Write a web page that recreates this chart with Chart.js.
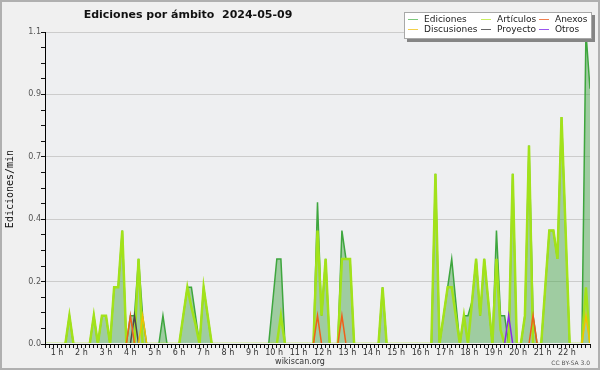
<!DOCTYPE html>
<html>
<head>
<meta charset="utf-8">
<script src="https://cdn.jsdelivr.net/npm/chart.js@4.4.1/dist/chart.umd.min.js"></script>
<style>
  html,body{margin:0;padding:0;background:#f0f0f0;}
  canvas{display:block;}
</style>
</head>
<body>
<canvas id="editsChart" width="600" height="370"></canvas>
<script>
// 10-minute bins from 00:00, edits per minute
const ediciones = [
  0,0,0,0,0,0,0.1,0,0,0,0,0,
  0.1,0,0.1,0.1,0,0.2,0.2,0.4,0,0.1,0.1,0.3,
  0.1,0,0,0,0,0.1,0,0,0,0,0.1,0.2,
  0.2,0.1,0,0.2,0.1,0,0,0,0,0,0,0,
  0,0,0,0,0,0,0,0,0.15,0.3,0.3,0,
  0,0,0,0,0,0,0,0.5,0.1,0.3,0,0,
  0,0.4,0.3,0.3,0,0,0,0,0,0,0,0.2,
  0,0,0,0,0,0,0,0,0,0,0,0,
  0.6,0,0.1,0.2,0.3,0.15,0,0.1,0.1,0.15,0.3,0.1,
  0.3,0.15,0,0.4,0.1,0.1,0,0.6,0,0,0.1,0.7,
  0.1,0,0,0.2,0.4,0.4,0.3,0.8,0.4,0,0,0,
  0,1.1,0.9
];
const articulos = [
  0,0,0,0,0,0,0.1,0,0,0,0,0,
  0.1,0,0.1,0.1,0,0.2,0.2,0.4,0,0,0,0.3,
  0,0,0,0,0,0,0,0,0,0,0.1,0.2,
  0.13,0.07,0,0.2,0.1,0,0,0,0,0,0,0,
  0,0,0,0,0,0,0,0,0,0,0.1,0,
  0,0,0,0,0,0,0,0.4,0.1,0.3,0,0,
  0,0.3,0.3,0.3,0,0,0,0,0,0,0,0.2,
  0,0,0,0,0,0,0,0,0,0,0,0,
  0.6,0,0.1,0.2,0.2,0.1,0,0.1,0,0.15,0.3,0.1,
  0.3,0.15,0,0.3,0.05,0,0,0.6,0,0,0.1,0.7,
  0,0,0,0.2,0.4,0.4,0.3,0.8,0.4,0,0,0,
  0,0.2,0
];
const discusiones = [
  0,0,0,0,0,0,0,0,0,0,0,0,
  0,0,0,0,0,0,0,0,0,0,0,0,
  0.1,0,0,0,0,0,0,0,0,0,0,0,
  0,0,0,0,0,0,0,0,0,0,0,0,
  0,0,0,0,0,0,0,0,0,0,0,0,
  0,0,0,0,0,0,0,0,0,0,0,0,
  0,0,0,0,0,0,0,0,0,0,0,0,
  0,0,0,0,0,0,0,0,0,0,0,0,
  0,0,0,0,0,0,0,0,0,0,0,0,
  0,0,0,0,0,0,0,0,0,0,0,0,
  0,0,0,0,0,0,0,0,0,0,0,0,
  0,0.1,0
];
const anexos = [
  0,0,0,0,0,0,0,0,0,0,0,0,
  0,0,0,0,0,0,0,0,0,0.1,0,0,
  0,0,0,0,0,0,0,0,0,0,0,0,
  0,0,0,0,0,0,0,0,0,0,0,0,
  0,0,0,0,0,0,0,0,0,0,0,0,
  0,0,0,0,0,0,0,0.1,0,0,0,0,
  0,0.1,0,0,0,0,0,0,0,0,0,0,
  0,0,0,0,0,0,0,0,0,0,0,0,
  0,0,0,0,0,0,0,0,0,0,0,0,
  0,0,0,0,0,0,0,0,0,0,0,0,
  0.1,0,0,0,0,0,0,0,0,0,0,0,
  0,0,0
];
const proyecto = [
  0,0,0,0,0,0,0,0,0,0,0,0,
  0,0,0,0,0,0,0,0,0,0,0.1,0,
  0,0,0,0,0,0,0,0,0,0,0,0,
  0,0,0,0,0,0,0,0,0,0,0,0,
  0,0,0,0,0,0,0,0,0,0,0,0,
  0,0,0,0,0,0,0,0,0,0,0,0,
  0,0,0,0,0,0,0,0,0,0,0,0,
  0,0,0,0,0,0,0,0,0,0,0,0,
  0,0,0,0,0,0,0,0,0,0,0,0,
  0,0,0,0,0,0,0,0,0,0,0,0,
  0,0,0,0,0,0,0,0,0,0,0,0,
  0,0,0
];
const otros = [
  0,0,0,0,0,0,0,0,0,0,0,0,
  0,0,0,0,0,0,0,0,0,0,0,0,
  0,0,0,0,0,0,0,0,0,0,0,0,
  0,0,0,0,0,0,0,0,0,0,0,0,
  0,0,0,0,0,0,0,0,0,0,0,0,
  0,0,0,0,0,0,0,0,0,0,0,0,
  0,0,0,0,0,0,0,0,0,0,0,0,
  0,0,0,0,0,0,0,0,0,0,0,0,
  0,0,0,0,0,0,0,0,0,0,0,0,
  0,0,0,0,0,0,0.1,0,0,0,0,0,
  0,0,0,0,0,0,0,0,0,0,0,0,
  0,0,0
];
const hourLabels = ["1 h","2 h","3 h","4 h","5 h","6 h","7 h","8 h","9 h","10 h","11 h",
  "12 h","13 h","14 h","15 h","16 h","17 h","18 h","19 h","20 h","21 h","22 h"];
const yLabels = ["0.0","0.2","0.4","0.7","0.9","1.1"];
const yMax = 1.1;
const titleText = "Ediciones por \u00e1mbito  2024-05-09";

const points = arr => arr.map((v,i)=>({x:i,y:v}));
const lineSet = (label,data,color,legendColor,order,width) => ({
    label:label, data:points(data), borderColor:color, backgroundColor:color,
    legendColor:legendColor,
    borderWidth:width, pointRadius:0, tension:0, fill:false, order:order,
    clip:{left:0,top:6,right:0,bottom:-1}
});

const datasets = [
    Object.assign(lineSet("Ediciones",ediciones,"#3ea63e","#7cc87c",6,1.5),
        {fill:"origin",backgroundColor:"rgba(70,165,70,0.47)"}),
    lineSet("Discusiones",discusiones,"#f2c200","#f3d04a",2,1.5),
    lineSet("Art\u00edculos",articulos,"#a2e21a","#c8ee60",5,2.5),
    lineSet("Proyecto",proyecto,"#4a4a4a","#666666",3,1.5),
    lineSet("Anexos",anexos,"#f0601a","#f08050",1,1.5),
    lineSet("Otros",otros,"#8a2be2","#9a55ee",0,1.5)
];

// background, titles, legend and frame
const decor = {
    id:"decor",
    beforeDraw(chart){
        const {ctx,chartArea:a,width,height} = chart;
        ctx.save();
        ctx.fillStyle = "#f0f0f0";
        ctx.fillRect(0,0,width,height);
        ctx.fillStyle = "#eeeff1";
        ctx.fillRect(a.left,a.top,a.right-a.left,a.bottom-a.top);
        ctx.restore();
    },
    afterDraw(chart){
        const {ctx,width,height} = chart;
        ctx.save();
        ctx.fillStyle = "#111";
        ctx.font = "bold 11px 'DejaVu Sans'";
        ctx.textAlign = "center";
        ctx.textBaseline = "alphabetic";
        ctx.fillText(titleText,188,18);

        ctx.fillStyle = "#333";
        ctx.font = "8px 'DejaVu Sans'";
        ctx.fillText("wikiscan.org",300,364);
        ctx.font = "6px 'DejaVu Sans'";
        ctx.textAlign = "right";
        ctx.fillStyle = "#555";
        ctx.fillText("CC BY-SA 3.0",590,365);

        ctx.save();
        ctx.translate(10,189);
        ctx.rotate(-Math.PI/2);
        ctx.textAlign = "center";
        ctx.textBaseline = "middle";
        ctx.fillStyle = "#111";
        ctx.font = "10px 'DejaVu Sans Mono'";
        ctx.fillText("Ediciones/min",0,0);
        ctx.restore();

        // legend box with shadow
        ctx.fillStyle = "#858585";
        ctx.fillRect(407,15,188,27);
        ctx.fillStyle = "#ffffff";
        ctx.fillRect(404,12,188,27);
        ctx.strokeStyle = "#a8a8a8";
        ctx.lineWidth = 1;
        ctx.strokeRect(404.5,12.5,187,26);
        const colX = [408,481,539];
        const rowY = [19,29];
        ctx.font = "9px 'DejaVu Sans'";
        ctx.textAlign = "left";
        ctx.textBaseline = "middle";
        chart.data.datasets.forEach((ds,k)=>{
            const x = colX[Math.floor(k/2)], y = rowY[k%2];
            ctx.strokeStyle = ds.legendColor;
            ctx.beginPath();
            ctx.moveTo(x,y+0.5); ctx.lineTo(x+10,y+0.5);
            ctx.stroke();
            ctx.fillStyle = "#222";
            ctx.fillText(ds.label,x+16,y+0.5);
        });

        // outer frame
        ctx.strokeStyle = "#b0b0b0";
        ctx.lineWidth = 2;
        ctx.strokeRect(1,1,width-2,height-2);
        ctx.restore();
    }
};

const ctx = document.getElementById("editsChart").getContext("2d");
new Chart(ctx,{
    type:"line",
    data:{datasets:datasets},
    plugins:[decor],
    options:{
        responsive:false,
        animation:false,
        devicePixelRatio:1,
        layout:{padding:{left:0,top:32,right:10,bottom:0}},
        plugins:{legend:{display:false},tooltip:{enabled:false},title:{display:false}},
        scales:{
            x:{
                type:"linear",
                min:0,
                max:ediciones.length-1,
                afterFit:s=>{s.height=26;},
                afterBuildTicks:s=>{s.ticks=ediciones.map((v,i)=>({value:i}));},
                grid:{drawOnChartArea:false,tickLength:4,tickColor:"#111"},
                border:{color:"#000",width:1,z:1},
                ticks:{
                    autoSkip:false,maxRotation:0,align:"end",labelOffset:-6,padding:0,
                    color:"#333",font:{family:"DejaVu Sans",size:8},
                    callback:v=>(v>0 && v%6===0) ? hourLabels[v/6-1] : ""
                }
            },
            y:{
                min:0,
                max:yMax,
                afterFit:s=>{s.width=45;},
                afterBuildTicks:s=>{
                    const t=[];
                    for(let k=0;k<=20;k++) t.push({value:yMax*k/20});
                    s.ticks=t;
                },
                grid:{
                    color:c=>(c.index%4===0)?"#cccccc":"rgba(0,0,0,0)",
                    tickColor:"#111",tickLength:4,lineWidth:1
                },
                border:{color:"#000",width:1,z:1},
                ticks:{
                    autoSkip:false,padding:0,color:"#555",font:{family:"DejaVu Sans",size:8},
                    callback:(v,i)=>(i%4===0)?yLabels[i/4]:""
                }
            }
        }
    }
});
</script>
</body>
</html>
